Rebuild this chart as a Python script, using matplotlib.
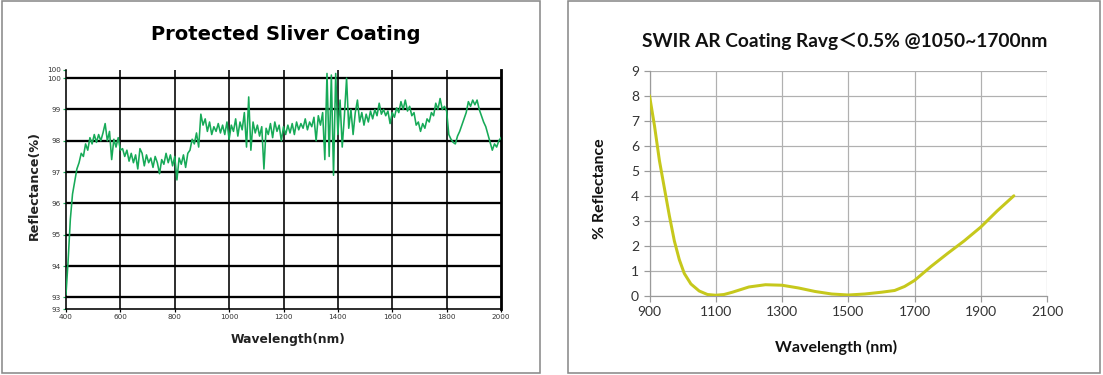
import numpy as np
import matplotlib
matplotlib.use("Agg")
import matplotlib.pyplot as plt
from matplotlib.patches import Rectangle

# ---------------- data: left chart (Protected Silver Coating) ----------------
silver_start_nm = 400
silver_step_nm = 8
silver_reflectance = [
    93.1, 94.2, 95.5, 96.3, 96.7, 97.1, 97.3, 97.6, 97.5, 97.9,
    97.7, 98.1, 97.9, 98.2, 97.95, 98.2, 98.0, 98.25, 98.55, 98.0,
    98.3, 97.4, 98.05, 97.8, 98.1, 97.7, 97.75, 97.5, 97.7, 97.35,
    97.6, 97.3, 97.55, 97.1, 97.75, 97.6, 97.2, 97.55, 97.3, 97.45,
    97.15, 97.5, 97.3, 96.95, 97.4, 97.25, 97.6, 97.3, 97.55, 97.2,
    97.5, 96.75, 97.45, 97.25, 97.55, 97.15, 97.6, 97.7, 98.05, 97.9,
    98.25, 97.8, 98.85, 98.5, 98.7, 98.3, 98.6, 98.2, 98.45, 98.3,
    98.55, 98.25, 98.5, 98.2, 98.6, 98.05, 98.5, 98.3, 98.7, 98.15,
    98.6, 98.35, 98.9, 97.8, 99.4, 97.7, 98.6, 98.25, 98.5, 98.15,
    98.45, 97.1, 98.4, 98.2, 98.55, 98.1, 98.6, 98.3, 98.5, 98.0,
    98.45, 98.2, 98.5, 98.25, 98.55, 98.2, 98.6, 98.35, 98.55, 98.4,
    98.7, 98.35, 98.6, 98.45, 98.75, 98.0, 98.8, 98.5, 98.9, 97.4,
    100.15, 97.5, 100.1, 96.9, 100.15, 98.2, 99.3, 97.8, 98.8, 100.0,
    98.4, 99.0, 98.2, 98.9, 99.3, 98.6, 98.9, 98.5, 98.85, 98.6,
    98.95, 98.7, 99.0, 98.8, 99.2, 98.85, 99.0, 98.8, 98.95, 98.55,
    98.9, 98.75, 99.05, 98.9, 99.25, 99.0, 99.3, 98.95, 99.1, 98.8,
    98.9, 98.5, 98.6, 98.3, 98.55, 98.4, 98.7, 98.6, 98.9, 98.8,
    99.2, 99.0, 99.35, 99.0, 99.1, 98.95, 98.2, 98.05, 97.95, 97.9,
    98.15, 98.3, 98.5, 98.7, 98.9, 99.25, 99.1, 99.3, 99.15, 99.3,
    99.0, 98.8, 98.6, 98.45, 98.2, 97.95, 97.7, 97.9, 97.8, 98.0,
    98.1,
]
silver_wavelength = [silver_start_nm + silver_step_nm * i for i in range(len(silver_reflectance))]
silver_xticks = [400, 600, 800, 1000, 1200, 1400, 1600, 1800, 2000]
silver_ylim = (92.63, 100.26)
silver_ytick_values = [92.63, 93, 94, 95, 96, 97, 98, 99, 100, 100.26]
silver_ytick_labels = ["93", "93", "94", "95", "96", "97", "98", "99", "100", "100"]

# ---------------- data: right chart (SWIR AR coating) ----------------
swir_wavelength = [900, 915, 930, 945, 960, 975, 990, 1005, 1025, 1050, 1075, 1100,
                   1125, 1150, 1200, 1250, 1300, 1350, 1400, 1450, 1500, 1550,
                   1600, 1640, 1670, 1700, 1750, 1800, 1850, 1900, 1950, 2000]
swir_reflectance = [8.0, 6.8, 5.4, 4.3, 3.2, 2.2, 1.45, 0.9, 0.48, 0.2, 0.06, 0.03,
                    0.06, 0.15, 0.36, 0.45, 0.43, 0.32, 0.18, 0.08, 0.04, 0.08,
                    0.15, 0.22, 0.38, 0.62, 1.18, 1.7, 2.2, 2.75, 3.4, 4.0]
swir_xticks = [900, 1100, 1300, 1500, 1700, 1900, 2100]
swir_yticks = [0, 1, 2, 3, 4, 5, 6, 7, 8, 9]

W, H = 1103, 375
fig = plt.figure(figsize=(W / 100, H / 100), dpi=100)
fig.patch.set_facecolor("white")

def px(v):
    return v * 72 / 100

# panel borders
for (x0, y0, x1, y1) in [(2, 1, 540, 373), (567.5, 1, 1100, 373)]:
    fig.patches.append(Rectangle((x0 / W, 1 - y1 / H), (x1 - x0) / W, (y1 - y0) / H,
                                 transform=fig.transFigure, fill=False,
                                 edgecolor="#8a8a8a", lw=px(1.6)))

# ---------------- left chart ----------------
axL = fig.add_axes([66 / W, 1 - 309 / H, (501 - 66) / W, (309 - 70) / H])
green = "#17aa58"
axL.plot(silver_wavelength, silver_reflectance, color=green, lw=px(1.6), zorder=3)
axL.set_xlim(400, 2000)
axL.set_ylim(*silver_ylim)
for v in silver_ytick_values[1:-1]:
    axL.axhline(v, color="black", lw=px(2.3), zorder=1)
for v in silver_xticks[1:-1]:
    axL.axvline(v, color="black", lw=px(1.6), zorder=1)
axL.spines["top"].set_visible(False)
axL.spines["left"].set_linewidth(px(1.6))
axL.spines["bottom"].set_linewidth(px(1.6))
axL.spines["right"].set_linewidth(px(2.8))
axL.set_xticks(silver_xticks)
axL.set_xticklabels([str(t) for t in silver_xticks])
axL.set_yticks(silver_ytick_values)
axL.set_yticklabels(silver_ytick_labels)
axL.tick_params(axis="both", labelsize=5.2, labelcolor="#333333", length=2.5,
                width=px(1.2), pad=1)
axL.tick_params(axis="y", color=green)
fig.text(286 / W, 1 - 34 / H, "Protected Sliver Coating", fontsize=14,
         fontweight="bold", family="DejaVu Sans", ha="center", va="center")
fig.text(288 / W, 1 - 340 / H, "Wavelength(nm)", fontsize=8.8, fontweight="bold",
         family="DejaVu Sans", ha="center", va="center", color="#222222")
fig.text(34 / W, 1 - 186 / H, "Reflectance(%)", fontsize=9.2, fontweight="bold",
         family="DejaVu Sans", ha="center", va="center", rotation=90, color="#222222")

# ---------------- right chart ----------------
axR = fig.add_axes([649.5 / W, 1 - 296 / H, (1047 - 649.5) / W, (296 - 70.5) / H])
axR.plot(swir_wavelength, swir_reflectance, color="#c6c81c", lw=px(3.0),
         solid_capstyle="round", zorder=3)
axR.set_xlim(900, 2100)
axR.set_ylim(0, 9)
axR.set_xticks(swir_xticks)
axR.set_yticks(swir_yticks)
axR.grid(True, color="#b0b0b0", lw=px(1.2))
for s in ["top", "right"]:
    axR.spines[s].set_visible(False)
for s in ["left", "bottom"]:
    axR.spines[s].set_color("#9a9a9a")
    axR.spines[s].set_linewidth(px(1.2))
axR.tick_params(axis="both", labelsize=10, color="#9a9a9a", length=4,
                width=px(1.2), labelcolor="#333333")
axR.tick_params(axis="x", pad=3)
for lab in axR.get_xticklabels() + axR.get_yticklabels():
    lab.set_family("Lato")
fig.text(845 / W, 1 - 41 / H, "SWIR AR Coating Ravg\uff1c0.5% @1050~1700nm",
         fontsize=13.8, fontweight="bold", family=["Lato", "Noto Sans CJK SC"],
         ha="center", va="center", color="#111111")
fig.text(836 / W, 1 - 347 / H, "Wavelength (nm)", fontsize=11.5, fontweight="bold",
         family="Lato", ha="center", va="center", color="#111111")
fig.text(600 / W, 1 - 189 / H, "% Reflectance", fontsize=11.5, fontweight="bold",
         family="Lato", ha="center", va="center", rotation=90, color="#111111")

fig.savefig("out.png", dpi=100, facecolor="white")
